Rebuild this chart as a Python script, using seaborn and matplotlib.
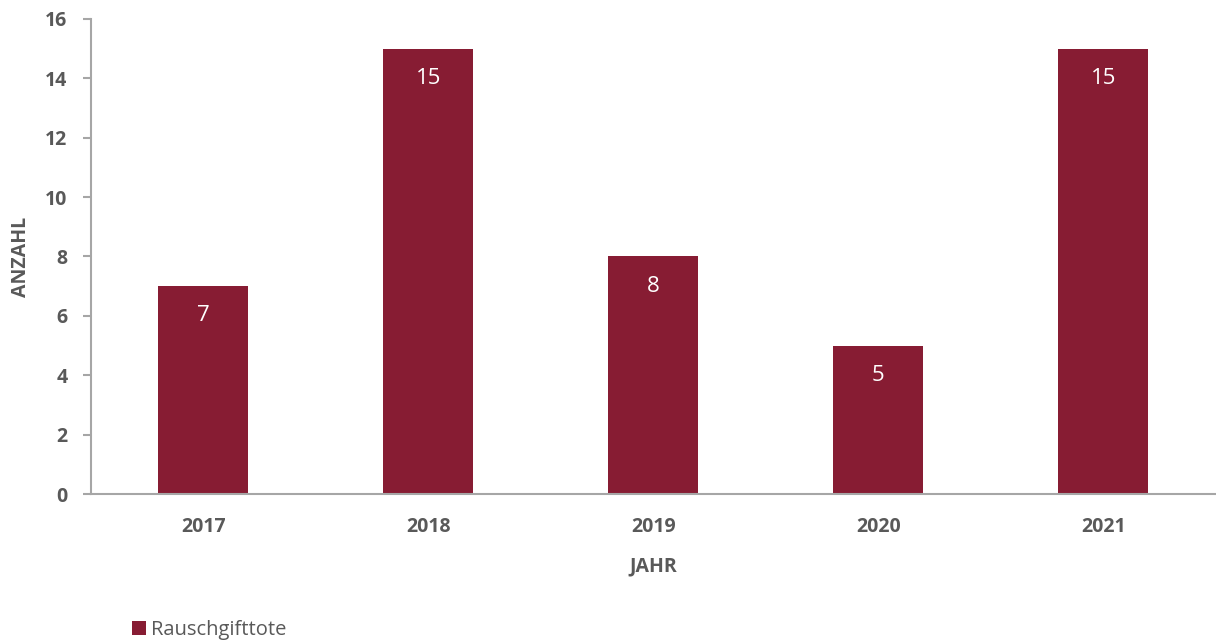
import pandas as pd
import numpy as np
import matplotlib
matplotlib.use('Agg')
import matplotlib.pyplot as plt
import seaborn as sns

jahre = ['2017', '2018', '2019', '2020', '2021']
anzahl = [7, 15, 8, 5, 15]
serie = 'Rauschgifttote'

bar_color = '#871C33'
grey = '#595959'
axis_grey = '#A6A6A6'

sns.set_style('white')
plt.rcParams['font.family'] = ['Open Sans', 'DejaVu Sans']

df = pd.DataFrame({'Jahr': jahre, 'Anzahl': anzahl})

fig = plt.figure(figsize=(12.16, 6.42), dpi=100)
ax = fig.add_axes([0.0748, 0.2305, 0.925, 0.74])

sns.barplot(data=df, x='Jahr', y='Anzahl', color=bar_color, width=0.4,
            saturation=1, label=serie, linewidth=0, ax=ax)

for i, v in enumerate(anzahl):
    ax.text(i, v - 1.0, str(v), ha='center', va='center', color='white', fontsize=16)

ax.set_xlim(-0.5, 4.5)
ax.set_ylim(0, 16)
ax.set_yticks(range(0, 17, 2))
sns.despine(ax=ax, top=True, right=True)
ax.spines['left'].set_color(axis_grey)
ax.spines['bottom'].set_color(axis_grey)
ax.spines['left'].set_linewidth(1.5)
ax.spines['bottom'].set_linewidth(1.5)
ax.tick_params(axis='y', left=True, length=6, width=1.5, color=axis_grey,
               labelsize=14, labelcolor=grey, pad=11)
ax.tick_params(axis='x', bottom=False, labelsize=14, labelcolor=grey, pad=13)
for lab in ax.get_xticklabels() + ax.get_yticklabels():
    lab.set_fontweight('bold')

ax.set_xlabel('JAHR', fontsize=14, fontweight='bold', color=grey, labelpad=14)
ax.set_ylabel('ANZAHL', fontsize=14, fontweight='bold', color=grey, labelpad=10)

leg = ax.legend(loc='lower left', bbox_to_anchor=(0.1, -0.012), bbox_transform=fig.transFigure,
                frameon=False, fontsize=14.5, handlelength=0.7, handleheight=0.7,
                handletextpad=0.25, borderaxespad=0.1)
for t in leg.get_texts():
    t.set_color(grey)

fig.savefig('out.png', dpi=100)
